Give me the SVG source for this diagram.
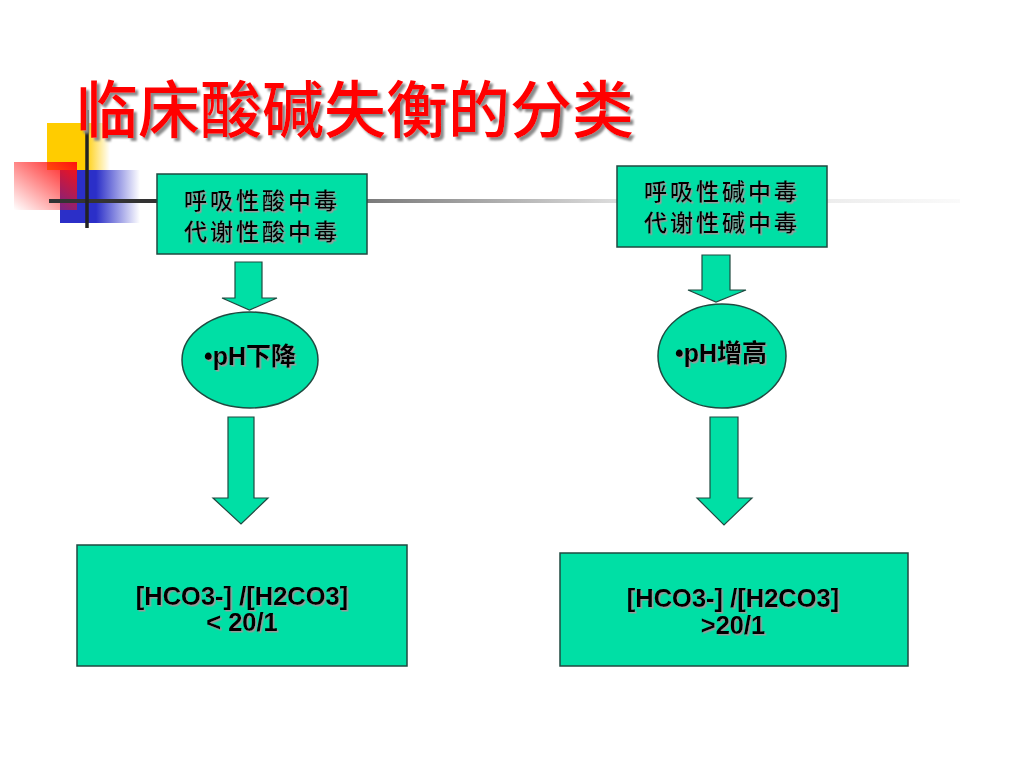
<svg xmlns="http://www.w3.org/2000/svg" width="1024" height="768" viewBox="0 0 1024 768">
<defs>
<style>
.box{fill:#00DFA5;stroke:#1f4a40;stroke-width:1.5}
.arr{fill:#00DFA5;stroke:#1f4a40;stroke-width:1.2}
.cjk{font-family:"Noto Sans CJK SC","Noto Sans",sans-serif;font-size:23px;font-weight:500;fill:#000;letter-spacing:3px;filter:url(#sh)}
.lat{font-family:"Liberation Sans",Arial,sans-serif;font-size:25.5px;font-weight:bold;fill:#000;text-anchor:middle;filter:url(#sh)}
.ph{font-family:"Liberation Sans","Noto Sans CJK SC",sans-serif;font-size:25px;font-weight:bold;fill:#000;text-anchor:middle;filter:url(#sh)}
</style>
<filter id="sh" x="-10%" y="-20%" width="130%" height="150%">
<feDropShadow dx="1.5" dy="1.5" stdDeviation="0.4" flood-color="#9a9a9a" flood-opacity="1"/>
</filter>
<filter id="tsh" x="-5%" y="-10%" width="115%" height="130%">
<feDropShadow dx="3" dy="3" stdDeviation="0.8" flood-color="#8a8a8a" flood-opacity="1"/>
</filter>
<linearGradient id="gy" x1="0" y1="0" x2="1" y2="0">
<stop offset="0" stop-color="#FFCC00"/>
<stop offset="0.6" stop-color="#FFCC00"/>
<stop offset="1" stop-color="#FFCC00" stop-opacity="0"/>
</linearGradient>
<linearGradient id="gb" x1="0" y1="0" x2="1" y2="0">
<stop offset="0" stop-color="#2B2FC8"/>
<stop offset="0.45" stop-color="#2B2FC8"/>
<stop offset="1" stop-color="#2B2FC8" stop-opacity="0"/>
</linearGradient>
<linearGradient id="gr" x1="1" y1="0" x2="0" y2="1">
<stop offset="0" stop-color="#FF1010"/>
<stop offset="1" stop-color="#FF1010" stop-opacity="0"/>
</linearGradient>
<linearGradient id="gl" gradientUnits="userSpaceOnUse" x1="49" y1="0" x2="960" y2="0">
<stop offset="0" stop-color="#333"/>
<stop offset="0.12" stop-color="#333"/>
<stop offset="0.35" stop-color="#7a7a7a"/>
<stop offset="0.62" stop-color="#dcdcdc"/>
<stop offset="0.85" stop-color="#ececec"/>
<stop offset="1" stop-color="#fafafa"/>
</linearGradient>
</defs>
<rect width="1024" height="768" fill="#fff"/>
<g id="decoration">
<rect x="47" y="123" width="63" height="47" fill="url(#gy)"/>
<rect x="60" y="170" width="80" height="53" fill="url(#gb)"/>
<rect x="14" y="162" width="63" height="48" fill="url(#gr)"/>
<line x1="49" y1="201" x2="960" y2="201" stroke="url(#gl)" stroke-width="4"/>
<line x1="87" y1="110" x2="87" y2="228" stroke="#222" stroke-width="3.5"/>
</g>
<g id="title">
<text x="76" y="133" font-family="'Noto Sans CJK SC',sans-serif" font-size="62" font-weight="500" fill="#FF0000" filter="url(#tsh)">临床酸碱失衡的分类</text>
</g>
<g id="connectors">
<polygon class="arr" points="235,262 262,262 262,298 277,298 249.5,310 222,298 235,298"/>
<polygon class="arr" points="228,417 254,417 254,498 268,498 241,524 213,498 228,498"/>
<polygon class="arr" points="702,255 730,255 730,290 746,290 716,302 688,290 702,290"/>
<polygon class="arr" points="710,417 738,417 738,498 752,498 724,525 697,498 710,498"/>
</g>
<g id="node-acid-types">
<rect class="box" x="157" y="174" width="210" height="80"/>
<text class="cjk" x="184" y="209">呼吸性酸中毒</text>
<text class="cjk" x="184" y="240">代谢性酸中毒</text>
</g>
<g id="node-alkali-types">
<rect class="box" x="617" y="166" width="210" height="81"/>
<text class="cjk" x="644" y="200">呼吸性碱中毒</text>
<text class="cjk" x="644" y="231">代谢性碱中毒</text>
</g>
<g id="node-ph-down">
<ellipse class="box" cx="250" cy="360" rx="68" ry="48"/>
<text class="ph" x="250" y="365">•pH下降</text>
</g>
<g id="node-ph-up">
<ellipse class="box" cx="722" cy="356" rx="64" ry="52"/>
<text class="ph" x="721" y="362">•pH增高</text>
</g>
<g id="node-ratio-low">
<rect class="box" x="77" y="545" width="330" height="121"/>
<text class="lat" x="242" y="605">[HCO3-] /[H2CO3]</text>
<text class="lat" x="242" y="631">&lt; 20/1</text>
</g>
<g id="node-ratio-high">
<rect class="box" x="560" y="553" width="348" height="113"/>
<text class="lat" x="733" y="607">[HCO3-] /[H2CO3]</text>
<text class="lat" x="733" y="634">&gt;20/1</text>
</g>
</svg>
